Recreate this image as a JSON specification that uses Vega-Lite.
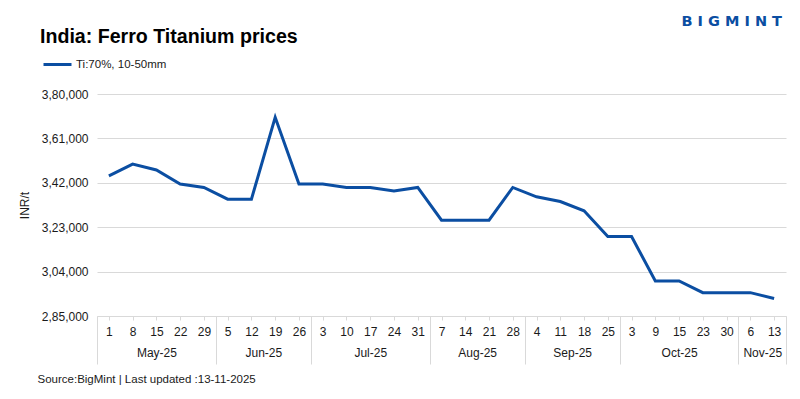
{
  "$schema": "https://vega.github.io/schema/vega-lite/v6.json",
  "autosize": "none",
  "padding": {"left": 97, "top": 94, "right": 14, "bottom": 83},
  "width": 689,
  "height": 222,
  "background": "white",
  "config": {
    "view": {"stroke": null},
    "font": "Liberation Sans",
    "axis": {"labelFont": "Liberation Sans", "titleFont": "Liberation Sans", "labelColor": "#1a1a1a", "titleColor": "#1a1a1a"}
  },
  "title": {
    "text": "India: Ferro Titanium prices",
    "anchor": "start",
    "frame": "group",
    "dx": -57,
    "offset": -35,
    "fontSize": 19.6,
    "fontWeight": "bold",
    "font": "Liberation Sans",
    "color": "#000000"
  },
  "data": {
    "values": [
      {"date": "2025-05-01", "price": 345000},
      {"date": "2025-05-08", "price": 350000},
      {"date": "2025-05-15", "price": 347500},
      {"date": "2025-05-22", "price": 341500},
      {"date": "2025-05-29", "price": 340000},
      {"date": "2025-06-05", "price": 335000},
      {"date": "2025-06-12", "price": 335000},
      {"date": "2025-06-19", "price": 370000},
      {"date": "2025-06-26", "price": 341500},
      {"date": "2025-07-03", "price": 341500},
      {"date": "2025-07-10", "price": 340000},
      {"date": "2025-07-17", "price": 340000},
      {"date": "2025-07-24", "price": 338500},
      {"date": "2025-07-31", "price": 340000},
      {"date": "2025-08-07", "price": 326000},
      {"date": "2025-08-14", "price": 326000},
      {"date": "2025-08-21", "price": 326000},
      {"date": "2025-08-28", "price": 340000},
      {"date": "2025-09-04", "price": 336000},
      {"date": "2025-09-11", "price": 334000},
      {"date": "2025-09-18", "price": 330000},
      {"date": "2025-09-25", "price": 319000},
      {"date": "2025-10-03", "price": 319000},
      {"date": "2025-10-09", "price": 300000},
      {"date": "2025-10-15", "price": 300000},
      {"date": "2025-10-23", "price": 295000},
      {"date": "2025-10-30", "price": 295000},
      {"date": "2025-11-06", "price": 295000},
      {"date": "2025-11-13", "price": 292500}
    ]
  },
  "layer": [
    {
      "mark": {"type": "line", "strokeWidth": 3},
      "encoding": {
        "x": {
          "field": "date",
          "type": "ordinal",
          "scale": {"type": "point", "padding": 0.5},
          "axis": {
            "orient": "bottom",
            "labelExpr": "'' + toNumber(slice(datum.value, 8))",
            "labelAngle": 0,
            "labelFontSize": 12,
            "labelPadding": 6,
            "domainColor": "#d9d9d9",
            "tickColor": "#d9d9d9",
            "tickSize": 4,
            "grid": false,
            "title": "B I G M I N T",
            "titleX": 584,
            "titleY": -295,
            "titleAlign": "left",
            "titleBaseline": "middle",
            "titleFont": "DejaVu Sans",
            "titleFontSize": 14.5,
            "titleFontWeight": "bold",
            "titleColor": "#0b4ea2"
          }
        },
        "y": {
          "field": "price",
          "type": "quantitative",
          "scale": {"domain": [285000, 380000], "nice": false, "zero": false},
          "axis": {
            "values": [285000, 304000, 323000, 342000, 361000, 380000],
            "labelExpr": "slice(toString(datum.value),0,1)+','+slice(toString(datum.value),1,3)+','+slice(toString(datum.value),3)",
            "domain": false,
            "ticks": false,
            "grid": true,
            "gridColor": "#d9d9d9",
            "labelPadding": 9,
            "labelFontSize": 12,
            "title": "INR/t",
            "titleFontSize": 12,
            "titleFontWeight": "normal",
            "titlePadding": 10
          }
        },
        "color": {
          "datum": "Ti:70%, 10-50mm",
          "type": "nominal",
          "scale": {"range": ["#0b4ea2"]},
          "legend": {
            "title": null,
            "orient": "none",
            "legendX": -55,
            "legendY": -45,
            "padding": 0,
            "symbolType": "stroke",
            "symbolSize": 784,
            "symbolStrokeWidth": 3,
            "labelOffset": 3,
            "labelFontSize": 11.5,
            "labelColor": "#1a1a1a",
            "labelFont": "Liberation Sans"
          }
        }
      }
    },
    {
      "transform": [{"window": [{"op": "row_number", "as": "n"}]}],
      "mark": {"type": "point", "opacity": 0},
      "encoding": {
        "x": {
          "field": "n",
          "type": "quantitative",
          "scale": {"domain": [0, 29], "nice": false, "zero": false},
          "axis": {
            "orient": "bottom",
            "values": [0, 2.5, 5, 7, 9, 11.5, 14, 16, 18, 20, 22, 24.5, 27, 28, 29],
            "domain": false,
            "grid": false,
            "tickSize": 48,
            "tickColor": "#d9d9d9",
            "tickOpacity": {"condition": {"test": "indexof([0,5,9,14,18,22,27,29], datum.value) >= 0", "value": 1}, "value": 0},
            "labelExpr": "datum.value == 2.5 ? 'May-25' : datum.value == 7 ? 'Jun-25' : datum.value == 11.5 ? 'Jul-25' : datum.value == 16 ? 'Aug-25' : datum.value == 20 ? 'Sep-25' : datum.value == 24.5 ? 'Oct-25' : datum.value == 28 ? 'Nov-25' : ''",
            "labelPadding": -17,
            "labelFontSize": 12,
            "labelOverlap": false,
            "labelFlush": false,
            "labelBound": false,
            "title": "Source:BigMint | Last updated :13-11-2025",
            "titleX": -60,
            "titleY": 63,
            "titleAlign": "left",
            "titleBaseline": "middle",
            "titleFontSize": 11.5,
            "titleFontWeight": "normal",
            "titleColor": "#1a1a1a"
          }
        }
      }
    }
  ],
  "resolve": {"scale": {"x": "independent"}, "axis": {"x": "independent"}}
}
